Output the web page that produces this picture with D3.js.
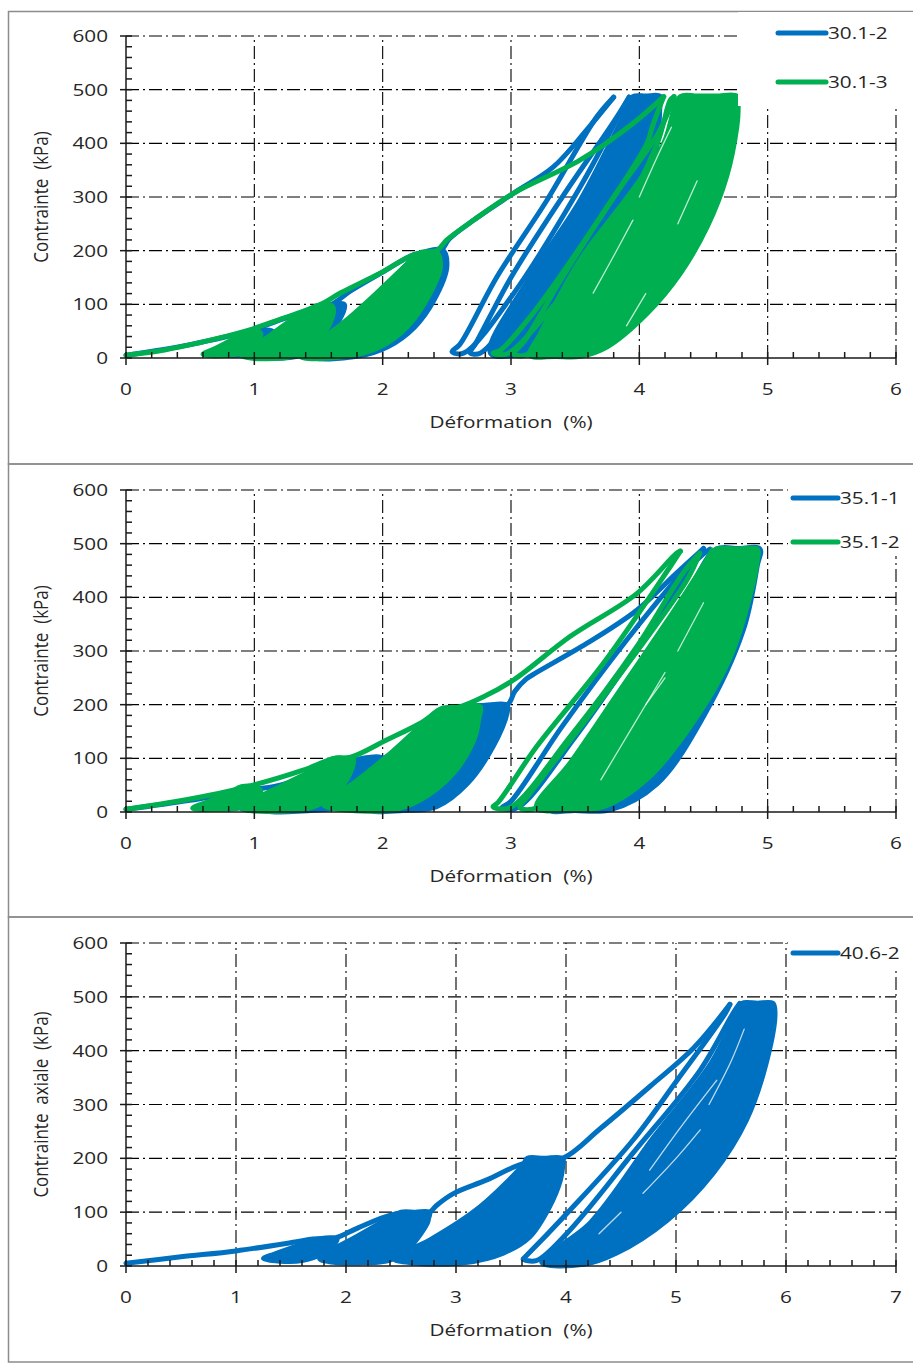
<!DOCTYPE html>
<html><head><meta charset="utf-8">
<script src="https://cdn.jsdelivr.net/npm/d3@7"></script>
<style>html,body{margin:0;padding:0;background:#fff}svg{display:block}</style>
</head><body>
<script>
// ---------- axis / tick data ----------
const strainTicksA = [0,1,2,3,4,5,6];
const strainTicksB = [0,1,2,3,4,5,6,7];
const stressTicks = [0,100,200,300,400,500,600];
const xTitle = "Déformation  (%)";
const yTitleA = "Contrainte  (kPa)";
const yTitleB = "Contrainte  axiale  (kPa)";
const legendP1 = ["30.1-2","30.1-3"];
const legendP2 = ["35.1-1","35.1-2"];
const legendP3 = ["40.6-2"];
const colors = ["#0070C0","#00B050"];

// ---------- panel 1 : 30.1-2 (blue) ----------
const p1BlueLines = [
  [[0,5],[0.5,25],[0.95,50],[1.25,75],[1.6,100],[1.75,125],[2.0,160],[2.25,193],[2.45,200],[2.52,222],[2.71,257],[3.02,307],[3.33,356],[3.59,425],[3.80,486]],
  [[1.0,8],[1.25,35],[1.45,62],[1.6,88],[1.68,99]],
  [[3.80,486],[3.67,450],[3.28,294],[2.89,151],[2.6,25],[2.54,12],[2.63,9],[3.02,120],[3.54,319],[3.85,456],[3.92,486]],
  [[3.92,486],[3.8,440],[3.4,300],[3.0,150],[2.72,25],[2.68,10],[2.76,9],[3.1,110],[3.6,300],[3.95,470],[4.0,487]]
];
const p1BlueBands = [
  [[0.72,8],[0.85,25],[1.0,45],[1.08,52],[1.15,48],[1.12,30],[1.0,10],[0.88,5]],
  [[1.0,5],[1.2,35],[1.45,75],[1.62,99],[1.7,100],[1.66,70],[1.52,35],[1.36,5]],
  [[1.45,3],[1.75,60],[2.05,140],[2.3,195],[2.47,200],[2.5,170],[2.4,108],[2.25,58],[2.04,21],[1.8,3]],
  [[2.84,9],[3.15,151],[3.54,294],[3.9,462],[3.95,487],[4.05,488],[4.16,488],[4.16,470],[4.14,400],[4.06,307],[3.85,183],[3.59,58],[3.43,9],[3.1,6]]
];
// ---------- panel 1 : 30.1-3 (green) ----------
const p1GreenLines = [
  [[0,5],[0.3,15],[0.6,30],[0.93,50],[1.2,72],[1.51,99],[1.67,121],[1.98,158],[2.24,192],[2.42,200],[2.5,220],[2.71,257],[3.02,307],[3.54,369],[3.95,437],[4.19,487]],
  [[4.19,487],[4.1,430],[4.06,400],[3.54,207],[3.17,83],[2.92,15],[2.86,9],[2.97,8],[3.28,83],[3.80,244],[4.14,400],[4.24,480],[4.27,487]],
  [[4.27,487],[4.15,420],[3.8,300],[3.4,150],[3.1,30],[3.02,8],[3.12,6],[3.45,110],[3.95,300],[4.3,440],[4.36,487]]
];
const p1GreenBands = [
  [[0.6,7],[0.7,18],[0.82,33],[0.93,48],[1.0,52],[1.05,45],[1.0,25],[0.9,10],[0.8,5]],
  [[0.9,5],[1.07,33],[1.33,77],[1.51,99],[1.61,96],[1.59,65],[1.46,27],[1.3,3]],
  [[1.36,3],[1.5,30],[1.72,71],[1.98,127],[2.21,179],[2.3,197],[2.36,198],[2.42,198],[2.45,170],[2.34,108],[2.19,58],[1.98,21],[1.72,3]],
  [[3.15,5],[3.23,46],[3.54,183],[3.93,307],[4.19,400],[4.32,487],[4.45,488],[4.6,488],[4.76,488],[4.77,465],[4.76,431],[4.68,338],[4.53,245],[4.32,158],[4.06,83],[3.75,21],[3.54,3],[3.35,3]]
];
const p1Streaks = [
  [[3.64,121],[3.8,190],[3.95,257]],
  [[4.0,300],[4.15,380],[4.25,430]],
  [[4.3,250],[4.45,330]],
  [[3.9,60],[4.05,120]]
];

// ---------- panel 2 : 35.1-1 (blue) ----------
const p2BlueLines = [
  [[0,5],[0.5,22],[1.0,42],[1.2,50],[1.5,75],[1.85,100],[2.0,100],[2.3,140],[2.6,175],[2.97,199],[3.03,225],[3.12,248],[3.2,260],[3.59,314],[3.98,376],[4.29,445],[4.5,491]],
  [[4.5,491],[4.4,465],[3.9,320],[3.4,160],[3.0,20],[2.93,8],[3.05,8],[3.5,140],[4.0,310],[4.45,470],[4.55,490]]
];
const p2BlueBands = [
  [[0.9,6],[1.07,25],[1.2,48],[1.3,50],[1.28,30],[1.15,8]],
  [[1.05,5],[1.4,50],[1.8,95],[1.85,100],[2.0,100],[1.93,60],[1.77,16],[1.56,5]],
  [[1.9,5],[2.2,70],[2.5,150],[2.6,192],[2.8,199],[2.97,199],[2.97,185],[2.86,122],[2.66,53],[2.42,10],[2.16,3]],
  [[3.3,5],[3.6,120],[4.0,260],[4.4,420],[4.6,490],[4.77,491],[4.94,490],[4.92,460],[4.81,339],[4.5,178],[4.14,53],[3.77,4],[3.5,3]]
];
// ---------- panel 2 : 35.1-2 (green) ----------
const p2GreenLines = [
  [[0,5],[0.4,20],[0.73,35],[0.99,50],[1.38,78],[1.62,100],[1.75,102],[2.03,134],[2.29,165],[2.47,192],[2.6,196],[2.79,215],[3.02,246],[3.46,327],[3.98,407],[4.29,482],[4.32,486]],
  [[4.32,486],[4.24,457],[3.72,277],[3.2,122],[2.9,18],[2.86,10],[2.99,8],[3.46,140],[3.98,308],[4.34,445],[4.47,482]],
  [[4.47,482],[4.37,432],[3.72,215],[3.15,35],[3.07,8],[3.2,8],[3.6,130],[4.1,300],[4.5,460],[4.57,488]]
];
const p2GreenBands = [
  [[0.52,7],[0.65,20],[0.8,35],[0.9,47],[0.98,48],[1.05,40],[1.0,22],[0.9,8],[0.7,5]],
  [[0.91,7],[1.25,53],[1.51,84],[1.62,100],[1.7,100],[1.77,99],[1.72,60],[1.56,22],[1.41,6]],
  [[1.54,14],[1.77,53],[2.03,103],[2.29,159],[2.45,192],[2.6,195],[2.76,196],[2.75,175],[2.71,134],[2.55,72],[2.29,22],[2.08,4],[1.7,4]],
  [[3.2,8],[3.46,91],[3.85,227],[4.24,364],[4.55,476],[4.6,490],[4.75,490],[4.92,490],[4.92,470],[4.86,401],[4.71,289],[4.45,178],[4.08,66],[3.72,10],[3.46,4]]
];
const p2Streaks = [
  [[3.7,60],[3.95,160],[4.2,260]],
  [[4.3,300],[4.5,390]],
  [[4.05,200],[4.2,250]]
];

// ---------- panel 3 : 40.6-2 (blue) ----------
const p3BlueLines = [
  [[0,5],[0.5,17],[1.0,28],[1.55,45],[1.7,50],[1.9,52],[2.1,70],[2.43,96],[2.76,100],[2.82,112],[2.98,135],[3.28,160],[3.61,190],[3.97,200],[4.31,255],[4.76,333],[5.16,405],[5.49,486]],
  [[5.49,486],[5.45,470],[5.01,345],[4.61,234],[4.01,98],[3.63,17],[3.61,13],[3.73,10],[4.01,61],[4.61,210],[5.22,364],[5.52,470],[5.58,488]]
];
const p3BlueBands = [
  [[1.25,14],[1.35,22],[1.6,40],[1.75,50],[1.92,50],[1.88,38],[1.78,22],[1.6,10],[1.4,9]],
  [[1.76,14],[2.1,55],[2.43,93],[2.5,100],[2.63,100],[2.76,100],[2.75,88],[2.74,80],[2.58,35],[2.4,11],[2.16,6],[1.85,8]],
  [[2.43,14],[2.76,48],[3.22,110],[3.61,188],[3.65,200],[3.8,200],[3.97,200],[3.97,185],[3.95,160],[3.85,110],[3.67,54],[3.43,24],[3.07,6],[2.6,6]],
  [[3.78,7],[4.22,80],[4.8,240],[5.32,377],[5.55,470],[5.6,488],[5.74,488],[5.88,488],[5.9,470],[5.82,377],[5.64,271],[5.34,173],[4.92,85],[4.46,24],[4.16,3]]
];
const p3Streaks = [
  [[4.76,178],[5.05,260],[5.37,345]],
  [[4.7,135],[5.0,200],[5.22,253]],
  [[5.3,300],[5.5,380],[5.62,440]],
  [[4.3,60],[4.5,100]]
];

// ---------- drawing ----------
const W = 913, H = 1364;
const FONT = "'Open Sans', sans-serif";
const TXT = "#262626";
const SX = 1.22;
const svg = d3.select("body").append("svg").attr("width", W).attr("height", H);

const panels = [
  {top:11.5, bottom:464, y0:358, y600:36, xTicks:strainTicksA, yTitle:yTitleA, legend:legendP1,
   legX:[778,826], legY:[33,82], legBg:[738,12,175,94], streaks:p1Streaks,
   series:[{c:0,lines:p1BlueLines,bands:p1BlueBands},{c:1,lines:p1GreenLines,bands:p1GreenBands}]},
  {top:464, bottom:917, y0:812, y600:490, xTicks:strainTicksA, yTitle:yTitleA, legend:legendP2,
   legX:[793,838], legY:[498,542], legBg:[788,484,124,72], streaks:p2Streaks,
   series:[{c:0,lines:p2BlueLines,bands:p2BlueBands},{c:1,lines:p2GreenLines,bands:p2GreenBands}]},
  {top:917, bottom:1362, y0:1266, y600:943, xTicks:strainTicksB, yTitle:yTitleB, legend:legendP3,
   legX:[793,838], legY:[953], legBg:[788,937,124,30], streaks:p3Streaks,
   series:[{c:0,lines:p3BlueLines,bands:p3BlueBands}]}
];

function hText(g, x, y, str, anchor, size) {
  return g.append("text").attr("transform", `translate(${x},${y}) scale(${SX},1)`)
    .attr("text-anchor", anchor).attr("font-family", FONT).attr("font-size", size || 17)
    .attr("fill", TXT).style("white-space", "pre").text(str);
}

panels.forEach(p => {
  const g = svg.append("g");
  g.append("rect").attr("x", 8.5).attr("y", p.top).attr("width", 920).attr("height", p.bottom - p.top)
    .attr("fill", "none").attr("stroke", "#8c8c8c").attr("stroke-width", 1.5);

  const xmax = p.xTicks[p.xTicks.length - 1];
  const x = d3.scaleLinear().domain([0, xmax]).range([126, 896]);
  const y = d3.scaleLinear().domain([0, 600]).range([p.y0, p.y600]);

  // grid
  const grid = g.append("g").attr("stroke", "#000").attr("stroke-width", 1.1).attr("stroke-dasharray", "13,4,2,4");
  p.xTicks.filter(v => v > 0).forEach(v => {
    grid.append("line").attr("x1", x(v)).attr("x2", x(v)).attr("y1", y(0)).attr("y2", y(600));
  });
  stressTicks.filter(v => v > 0).forEach(v => {
    grid.append("line").attr("x1", x(0)).attr("x2", x(xmax)).attr("y1", y(v)).attr("y2", y(v));
  });

  // data
  const line = d3.line().x(d => x(d[0])).y(d => y(d[1])).curve(d3.curveCatmullRom.alpha(0.5));
  const band = d3.line().x(d => x(d[0])).y(d => y(d[1])).curve(d3.curveCatmullRomClosed.alpha(0.5));
  const dg = g.append("g");
  p.series.forEach(s => {
    const col = colors[s.c];
    dg.selectAll(null).data(s.bands).join("path").attr("d", band)
      .attr("fill", col).attr("stroke", col).attr("stroke-width", 5).attr("stroke-linejoin", "round");
    dg.selectAll(null).data(s.lines).join("path").attr("d", line)
      .attr("fill", "none").attr("stroke", col).attr("stroke-width", 5)
      .attr("stroke-linejoin", "round").attr("stroke-linecap", "round");
  });
  dg.selectAll(null).data(p.streaks).join("path").attr("d", line)
    .attr("fill", "none").attr("stroke", "#fff").attr("stroke-width", 1.3).attr("stroke-opacity", 0.75)
    .attr("stroke-linecap", "round");

  // legend
  g.append("rect").attr("x", p.legBg[0]).attr("y", p.legBg[1]).attr("width", p.legBg[2]).attr("height", p.legBg[3]).attr("fill", "#fff");
  p.legend.forEach((name, i) => {
    g.append("line").attr("x1", p.legX[0]).attr("x2", p.legX[1]).attr("y1", p.legY[i]).attr("y2", p.legY[i])
      .attr("stroke", colors[i]).attr("stroke-width", 5).attr("stroke-linecap", "round");
    hText(g, p.legX[1] + 2, p.legY[i] + 6, name, "start");
  });

  // axes
  const ax = g.append("g").attr("stroke", "#1a1a1a").attr("stroke-width", 1.5);
  ax.append("line").attr("x1", x(0)).attr("x2", x(0)).attr("y1", y(0)).attr("y2", y(600));
  ax.append("line").attr("x1", x(0)).attr("x2", x(xmax)).attr("y1", y(0)).attr("y2", y(0));
  d3.range(0, 601, 20).forEach(v => {
    const major = v % 100 === 0;
    ax.append("line").attr("x1", major ? x(0) - 6 : x(0)).attr("x2", x(0) + 6).attr("y1", y(v)).attr("y2", y(v));
  });
  d3.range(0, xmax * 5 + 1).forEach(k => {
    const v = k / 5;
    const major = k % 5 === 0;
    ax.append("line").attr("x1", x(v)).attr("x2", x(v)).attr("y1", y(0) - 6).attr("y2", major ? y(0) + 7 : y(0));
  });

  // tick labels
  stressTicks.forEach(v => hText(g, 108, y(v) + 6, String(v), "end"));
  p.xTicks.forEach(v => hText(g, x(v), y(0) + 37, String(v), "middle"));

  // titles
  hText(g, 511, y(0) + 70, xTitle, "middle");
  g.append("text").attr("transform", `translate(48,${(y(0) + y(600)) / 2}) rotate(-90) scale(1,${SX})`)
    .attr("text-anchor", "middle").attr("font-family", FONT).attr("font-size", 17).attr("fill", TXT)
    .style("white-space", "pre").text(p.yTitle);
});
</script>
</body></html>
